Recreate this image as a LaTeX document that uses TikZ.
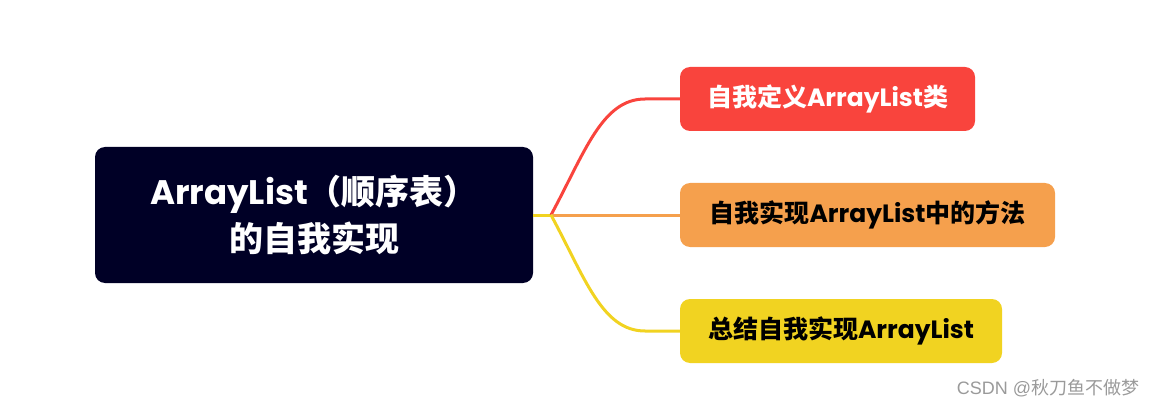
\documentclass[tikz,border=0pt]{standalone}
\usepackage{fontspec}
\setmainfont{Noto Sans CJK SC}
\newfontfamily\lat{Poppins}
\newfontfamily\arial{Liberation Sans}
\definecolor{rootc}{HTML}{000026}
\definecolor{redc}{HTML}{F9443D}
\definecolor{orangec}{HTML}{F5A04D}
\definecolor{yellowc}{HTML}{F1D321}
\definecolor{markc}{HTML}{9A9A9A}
\tikzset{
  rootbox/.style={fill=rootc, rounded corners=10pt, inner sep=0pt, minimum width=438pt, minimum height=136pt,
    text=white, align=center, font=\fontsize{34}{47}\selectfont\bfseries},
  leafbox/.style={rounded corners=10pt, inner sep=0pt, minimum height=64pt,
    font=\fontsize{25}{30}\selectfont\bfseries},
  link/.style={line width=3pt},
}
\begin{document}
\begin{tikzpicture}[x=1pt,y=-1pt]
\useasboundingbox (0,0) rectangle (1160,409);
\node[rootbox] (root) at (314,215) {{\lat ArrayList}（顺序表）\\的自我实现};
\node[leafbox, fill=redc, text=white, minimum width=295pt] (a) at (827.5,99) {自我定义{\lat\bfseries ArrayList}类};
\node[leafbox, fill=orangec, text=black, minimum width=375pt] (b) at (867.5,215) {自我实现{\lat\bfseries ArrayList}中的方法};
\node[leafbox, fill=yellowc, text=black, minimum width=322pt] (c) at (841,331) {总结自我实现{\lat\bfseries ArrayList}};
\coordinate (hub) at (551,215);
\draw[link, yellowc] (root.east |- hub) -- (hub);
\draw[link, redc] (hub) .. controls (585,152) and (602,99) .. (645,99) -- (a.west);
\draw[link, orangec] (hub) -- (b.west);
\draw[link, yellowc] (hub) .. controls (585,278) and (602,331) .. (645,331) -- (c.west);
\node[text=markc, font=\fontsize{18}{20}\selectfont, anchor=center] (mark) at (1048,388) {{\arial CSDN @}秋刀鱼不做梦};
\end{tikzpicture}
\end{document}
